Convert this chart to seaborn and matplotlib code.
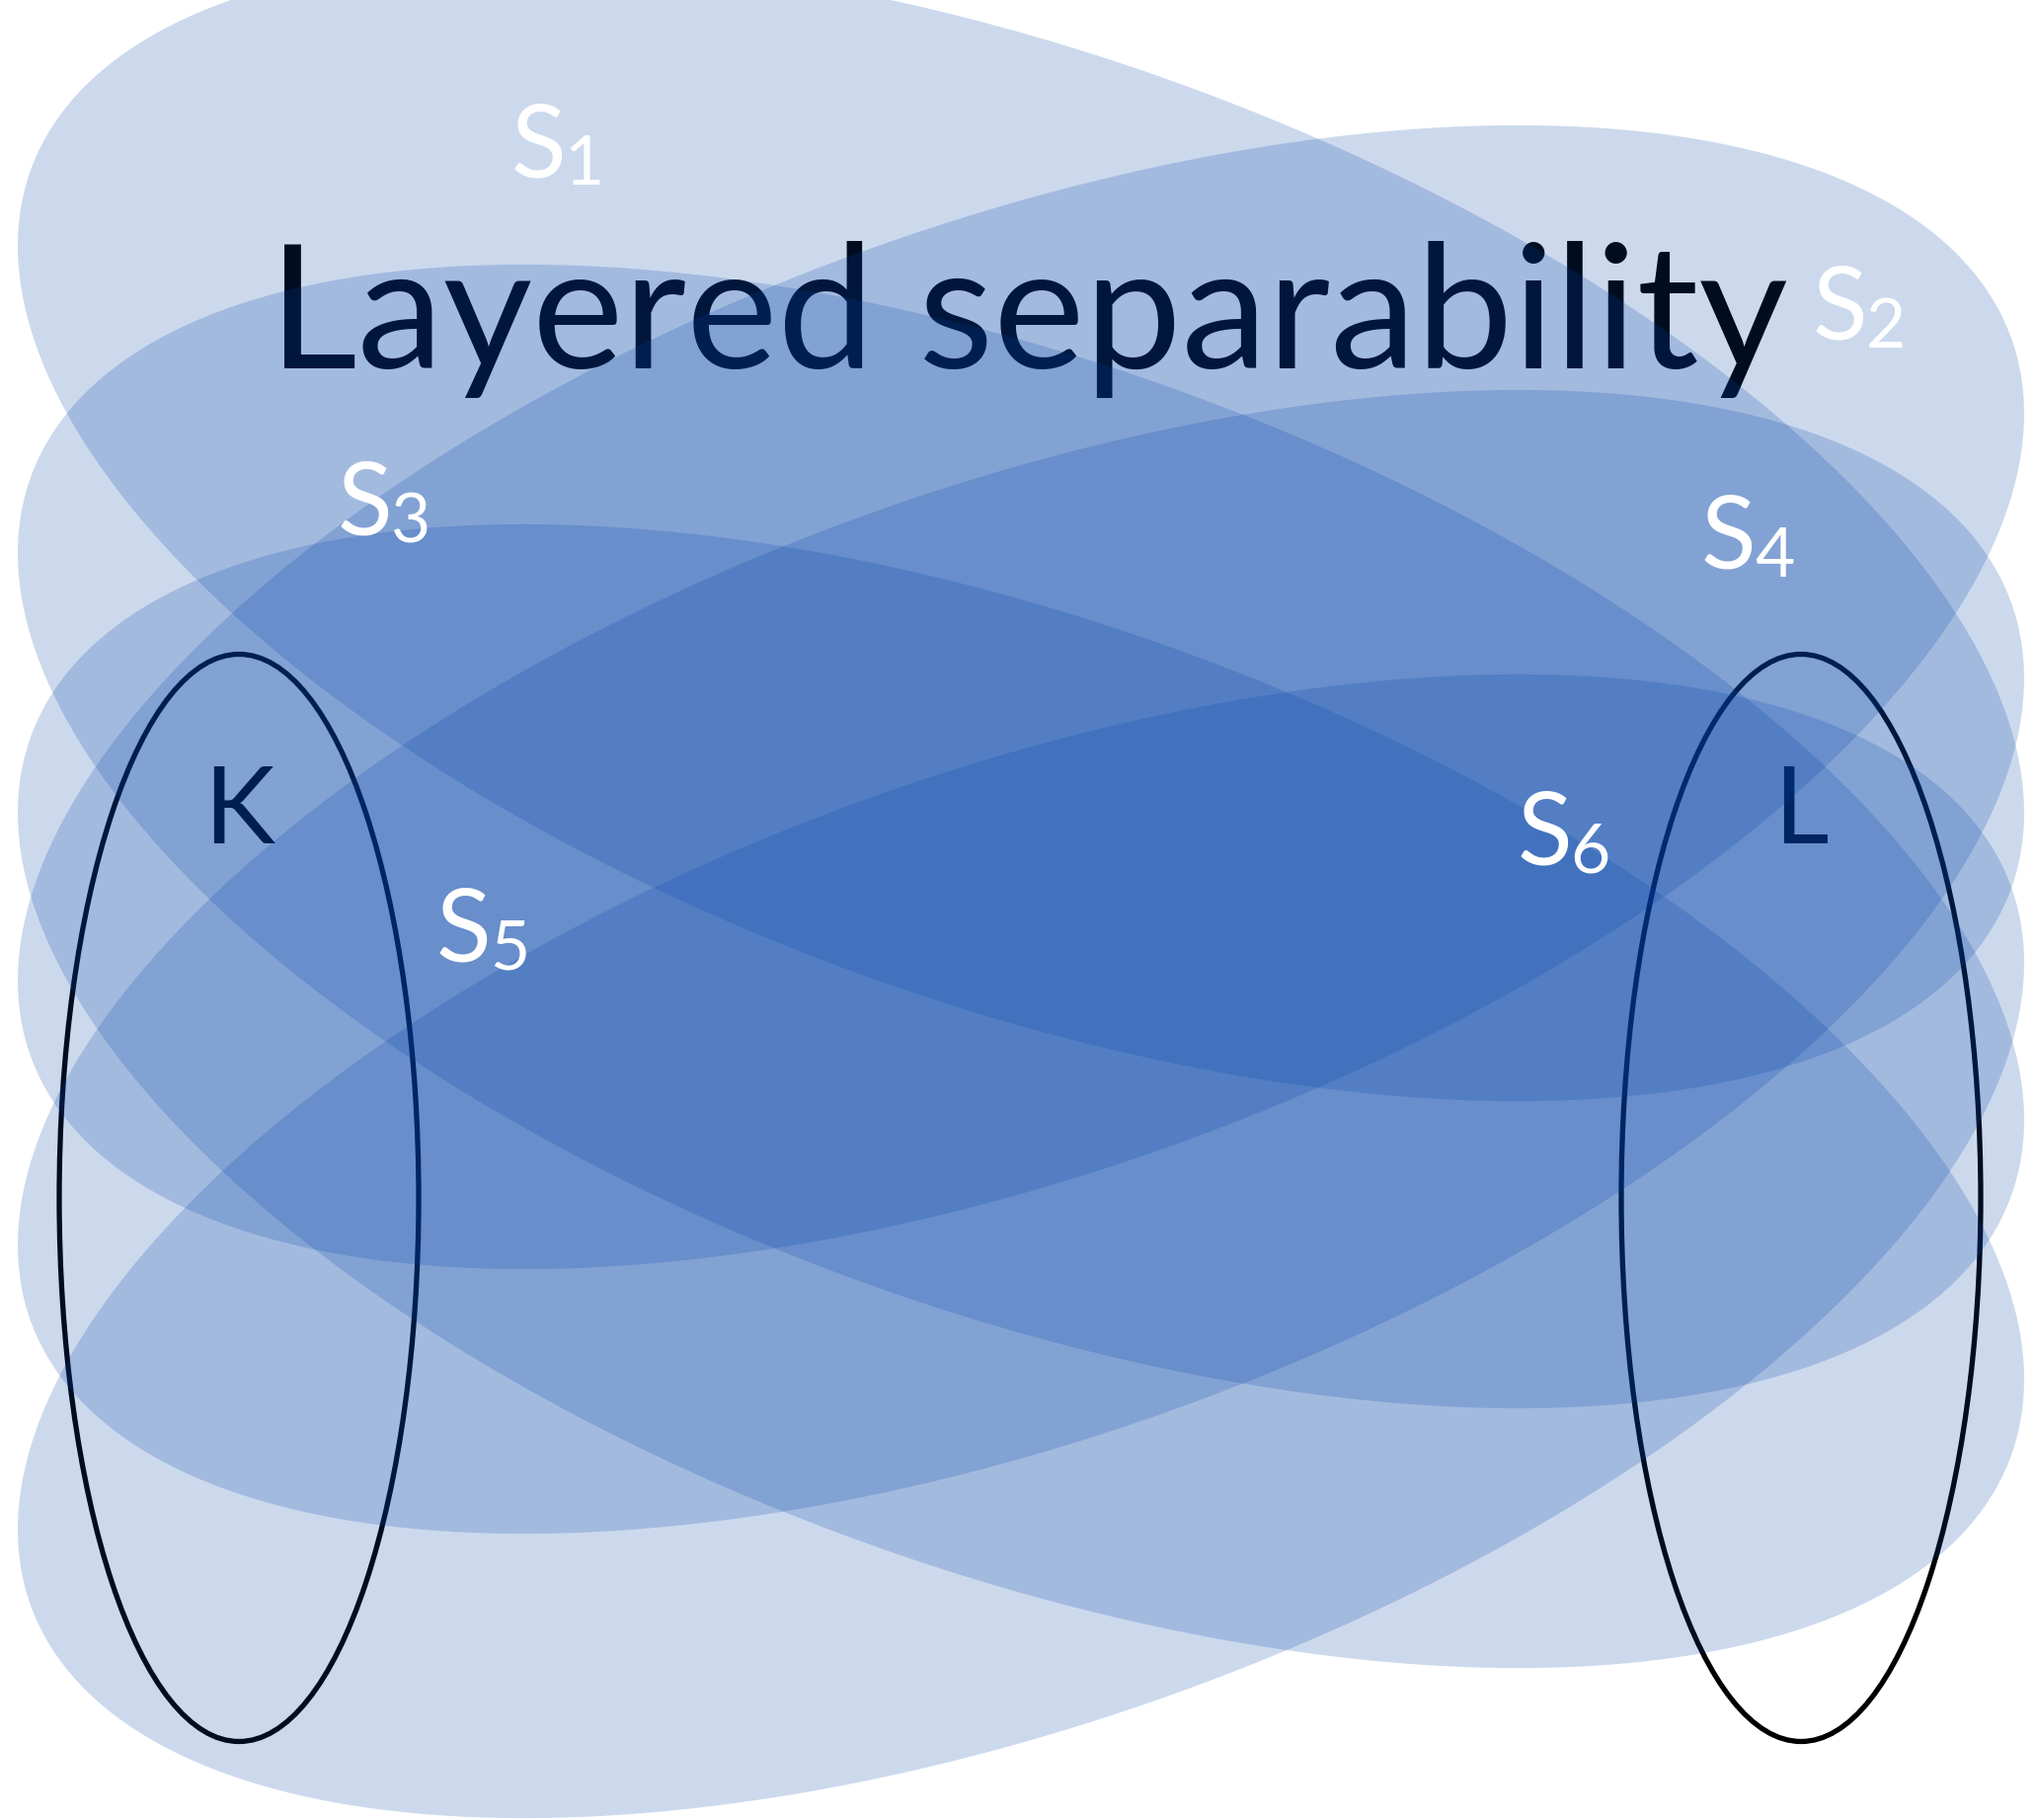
import numpy as np
import matplotlib.pyplot as plt
from matplotlib.patches import Ellipse
import seaborn as sns

# canvas in pixels of the original slide
W, H = 2061, 1843

# six translucent layer sets, all the same tilted ellipse shifted vertically
# tilt +1 leans down to the right, -1 leans up to the right
layer_cx = [1034, 1034, 1034, 1034, 1034, 1034]
layer_cy = [536, 706, 847, 974, 1110, 1262]
layer_tilt = [1, -1, 1, -1, 1, -1]
layer_half_w = 1016
layer_lean = 287
layer_depth = 503

# set labels (white, on top)
set_main = ["S", "S", "S", "S", "S", "S"]
set_sub = ["1", "2", "3", "4", "5", "6"]
set_x = [518, 1836, 342, 1723, 442, 1537]
set_y = [179, 344, 542, 576, 974, 875]
sub_drop = 8

# the two outlined groups
group_names = ["K", "L"]
group_cx = [242, 1824]
group_cy = [1213, 1213]
group_w = [364, 364]
group_h = [1101, 1101]
group_lx = [206, 1796]
group_ly = [854, 854]

title = "Layered separability"

sns.set_theme(style="white")
plt.rcParams["font.family"] = ["Lato", "DejaVu Sans"]

fig = plt.figure(figsize=(W / 100, H / 100), dpi=100)
ax = fig.add_axes([0, 0, 1, 1])
ax.set_xlim(0, W)
ax.set_ylim(H, 0)
ax.axis("off")

base = "#0042A8"

# dark text and outlines sit underneath the translucent layers
ax.text(272, 373, title, fontsize=126, color="black", ha="left",
        va="baseline", zorder=1)
for name, cx, cy, w, h, lx, ly in zip(group_names, group_cx, group_cy,
                                      group_w, group_h, group_lx, group_ly):
    ax.add_patch(Ellipse((cx, cy), w, h, fill=False, edgecolor="black",
                         linewidth=3.8, zorder=1))
    ax.text(lx, ly, name, fontsize=78, color="black", ha="left",
            va="baseline", zorder=1)

t = np.linspace(0, 2 * np.pi, 600)
for cx, cy, tilt in zip(layer_cx, layer_cy, layer_tilt):
    xs = cx + layer_half_w * np.cos(t)
    ys = cy + tilt * layer_lean * np.cos(t) + layer_depth * np.sin(t)
    ax.fill(xs, ys, color=base, alpha=0.2, linewidth=0, zorder=2)

renderer = fig.canvas.get_renderer()
inv = ax.transData.inverted()
for m, s, x, y in zip(set_main, set_sub, set_x, set_y):
    txt = ax.text(x, y, m, fontsize=74, color="white", ha="left",
                  va="baseline", zorder=3)
    bb = txt.get_window_extent(renderer)
    right = inv.transform((bb.x1, bb.y0))[0]
    ax.text(right - 2, y + sub_drop, s, fontsize=50, color="white",
            ha="left", va="baseline", zorder=3)

fig.savefig("out.png", dpi=100, facecolor="white")
